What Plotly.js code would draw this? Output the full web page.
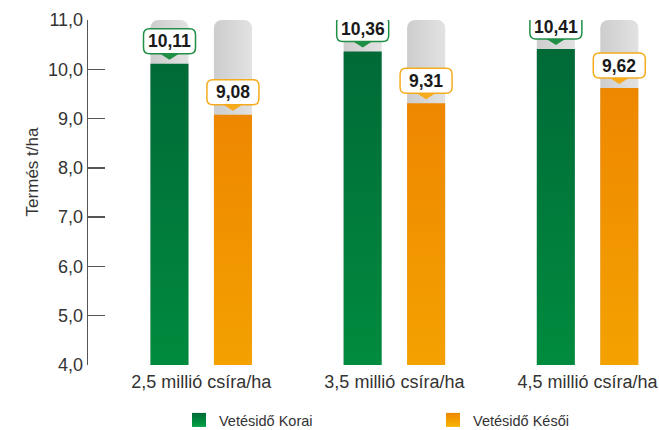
<!DOCTYPE html>
<html>
<head>
<meta charset="utf-8">
<script src="https://cdn.plot.ly/plotly-3.0.1.min.js"></script>
<style>
  html, body { margin: 0; padding: 0; background: #fff; }
  #chart { width: 659px; height: 430px; }
</style>
</head>
<body>
<div id="chart"></div>
<script>
// ---- data ----
const categories = ['2,5 millió csíra/ha', '3,5 millió csíra/ha', '4,5 millió csíra/ha'];
const seriesNames = ['Vetésidő Korai', 'Vetésidő Késői'];
const korai = [10.11, 10.36, 10.41];
const kesoi = [9.08, 9.31, 9.62];
const yTickVals = [4, 5, 6, 7, 8, 9, 10, 11];
const yTitle = 'Termés t/ha';

// ---- style ----
const FONT = 'Liberation Sans, Arial, sans-serif';
const yMin = 4, yMax = 11;
const barW = 0.197;
const half = 0.1643;           // half distance between bar centres (category units)
const pxShift = 31.7;          // same in pixels
const colors = {
  green: '#00833d', greenBorder: '#1f8f45',
  orange: '#f39a00', orangeBorder: '#f5ab1c',
  gray: '#d9d9d9'
};

const xIdx = categories.map((c, i) => i);
const grayY = categories.map(() => yMax);

const traces = [
  { type: 'bar', x: xIdx, y: grayY, width: barW, offset: -half - barW / 2,
    marker: { color: colors.gray, cornerradius: 8 }, showlegend: false, hoverinfo: 'skip' },
  { type: 'bar', x: xIdx, y: grayY, width: barW, offset: half - barW / 2,
    marker: { color: colors.gray, cornerradius: 8 }, showlegend: false, hoverinfo: 'skip' },
  { type: 'bar', name: seriesNames[0], x: xIdx, y: korai, width: barW, offset: -half - barW / 2,
    marker: { color: colors.green, cornerradius: 8 }, legend: 'legend' },
  { type: 'bar', name: seriesNames[1], x: xIdx, y: kesoi, width: barW, offset: half - barW / 2,
    marker: { color: colors.orange, cornerradius: 8 }, legend: 'legend2' }
];

function roundedBox(dx, b, t, w, r) {
  const x0 = dx - w / 2, x1 = dx + w / 2;
  return `M ${x0 + r},${t} L ${x1 - r},${t} Q ${x1},${t} ${x1},${t - r} L ${x1},${b + r} ` +
         `Q ${x1},${b} ${x1 - r},${b} L ${x0 + r},${b} Q ${x0},${b} ${x0},${b + r} ` +
         `L ${x0},${t - r} Q ${x0},${t} ${x0 + r},${t} Z`;
}

const shapes = [];
const annotations = [];
function addLabels(values, sign, border) {
  values.forEach((v, i) => {
    const dx = sign * pxShift;
    shapes.push({ type: 'path', xref: 'x', yref: 'y', xsizemode: 'pixel', ysizemode: 'pixel',
      xanchor: i, yanchor: v, path: `M ${dx - 11},11 L ${dx + 11},11 L ${dx},4 Z`,
      fillcolor: border, line: { width: 0 }, layer: 'above' });
    shapes.push({ type: 'path', xref: 'x', yref: 'y', xsizemode: 'pixel', ysizemode: 'pixel',
      xanchor: i, yanchor: v, path: roundedBox(dx, 10, 35, 52, 6),
      fillcolor: '#ffffff', line: { color: border, width: 1.5 }, layer: 'above' });
    annotations.push({ x: i, y: v, xref: 'x', yref: 'y', xshift: dx, yshift: 22.5,
      text: '<b>' + v.toFixed(2).replace('.', ',') + '</b>', showarrow: false,
      font: { family: FONT, size: 17.5, color: '#1a1a1a' } });
  });
}
addLabels(korai, -1, colors.greenBorder);
addLabels(kesoi, 1, colors.orangeBorder);

annotations.push({ xref: 'paper', yref: 'paper', x: -0.118, y: 0.56, text: yTitle,
  textangle: -90, showarrow: false, font: { family: FONT, size: 17, color: '#333' } });

const legendBase = { orientation: 'h', xanchor: 'left', yref: 'container', y: 0.0233, yanchor: 'middle',
  font: { family: FONT, size: 14.5, color: '#333' }, bgcolor: 'rgba(0,0,0,0)' };

const layout = {
  width: 659, height: 430,
  margin: { l: 88, r: 4, t: 20, b: 65 },
  paper_bgcolor: '#fff', plot_bgcolor: '#fff',
  separators: ', ',
  barmode: 'overlay',
  font: { family: FONT, color: '#333' },
  xaxis: { type: 'linear', range: [-0.586, 2.349], tickvals: xIdx, ticktext: categories,
    showgrid: false, zeroline: false, showline: false, ticks: '',
    tickfont: { family: FONT, size: 18, color: '#333' }, ticklabelstandoff: 4 },
  yaxis: { range: [yMin, yMax], tickvals: yTickVals, tickformat: '.1f',
    showgrid: false, zeroline: false, showline: true, linecolor: '#555', linewidth: 1.3,
    ticks: 'inside', ticklen: 17, tickcolor: '#555', tickwidth: 1.3,
    tickfont: { family: FONT, size: 18, color: '#333' } },
  legend: Object.assign({}, legendBase, { x: 0.1605 }),
  legend2: Object.assign({}, legendBase, { x: 0.6085 }),
  shapes: shapes,
  annotations: annotations,
  showlegend: true
};

Plotly.newPlot('chart', traces, layout, { displayModeBar: false, staticPlot: true }).then(gd => {
  const svg = gd.querySelector('.main-svg');
  const ns = 'http://www.w3.org/2000/svg';
  let defs = svg.querySelector('defs');
  if (!defs) { defs = document.createElementNS(ns, 'defs'); svg.insertBefore(defs, svg.firstChild); }
  function grad(id, top, bottom, horiz) {
    const g = document.createElementNS(ns, 'linearGradient');
    g.setAttribute('id', id);
    g.setAttribute('x1', '0'); g.setAttribute('y1', '0');
    g.setAttribute('x2', horiz ? '1' : '0'); g.setAttribute('y2', horiz ? '0' : '1');
    [[0, top], [1, bottom]].forEach(([o, c]) => {
      const s = document.createElementNS(ns, 'stop');
      s.setAttribute('offset', o); s.setAttribute('stop-color', c);
      g.appendChild(s);
    });
    defs.appendChild(g);
  }
  grad('gGreen', '#006a37', '#00a043');
  grad('gOrange', '#ee8700', '#f8b500');
  grad('gGray', '#cdcdcd', '#e2e2e2', true);
  const barTraces = gd.querySelectorAll('.barlayer .trace');
  const fills = ['url(#gGray)', 'url(#gGray)', 'url(#gGreen)', 'url(#gOrange)'];
  barTraces.forEach((t, i) => {
    t.querySelectorAll('path').forEach(p => { p.style.fill = fills[i]; });
  });
  const lfills = ['url(#gGreen)', 'url(#gOrange)'];
  ['.legend', '.legend2'].forEach((sel, i) => {
    gd.querySelectorAll(sel + ' .legendpoints path').forEach(p => {
      p.style.fill = lfills[i];
      p.setAttribute('d', 'M7,7H-7V-7H7Z');
      p.style.strokeWidth = '0';
    });
  });
});
</script>
</body>
</html>
